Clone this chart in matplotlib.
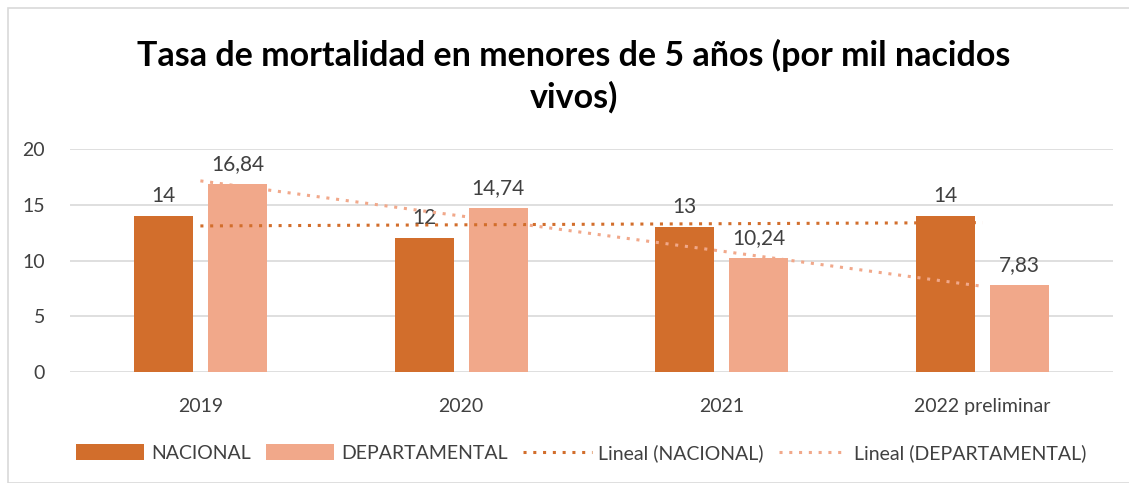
import numpy as np
import matplotlib.pyplot as plt
from matplotlib.patches import Rectangle

plt.rcParams['font.family'] = ['Lato', 'DejaVu Sans']

categories = ["2019", "2020", "2021", "2022 preliminar"]
nacional = [14, 12, 13, 14]
departamental = [16.84, 14.74, 10.24, 7.83]
labels_nac = ["14", "12", "13", "14"]
labels_dep = ["16,84", "14,74", "10,24", "7,83"]

c_nac = "#D26E2C"
c_dep = "#F1A88A"
txt = "#404040"

fig = plt.figure(figsize=(11.29, 4.83), dpi=100)
ax = fig.add_axes([70 / 1129, 1 - 372 / 483, (1113 - 70) / 1129, (372 - 149) / 483])

x = np.arange(len(categories))
w = 0.226
off = 0.142
ax.bar(x - off, nacional, w, color=c_nac, label="NACIONAL", zorder=2)
ax.bar(x + off, departamental, w, color=c_dep, label="DEPARTAMENTAL", zorder=2)

for xi, v, s in zip(x - off, nacional, labels_nac):
    ax.text(xi, v + 0.9, s, ha="center", va="bottom", fontsize=15, color=txt)
for xi, v, s in zip(x + off, departamental, labels_dep):
    ax.text(xi, v + 0.9, s, ha="center", va="bottom", fontsize=15, color=txt)

# linear trendlines (Excel style, at category centres)
p_nac = np.polyfit(x, nacional, 1)
p_dep = np.polyfit(x, departamental, 1)
ax.plot(x, np.polyval(p_nac, x), linestyle=(0, (1, 2.2)), color=c_nac, lw=2.2,
        label="Lineal (NACIONAL)", zorder=3)
ax.plot(x, np.polyval(p_dep, x), linestyle=(0, (1, 2.2)), color=c_dep, lw=2.2,
        label="Lineal (DEPARTAMENTAL)", zorder=3)

ax.set_xlim(-0.5, 3.5)
ax.set_ylim(0, 20)
ax.set_yticks([0, 5, 10, 15, 20])
ax.set_xticks(x)
ax.set_xticklabels(categories)
ax.grid(axis="y", color="#D9D9D9", lw=1.2, zorder=0)
for sp in ax.spines.values():
    sp.set_visible(False)
ax.tick_params(length=0, labelsize=14, colors=txt)
ax.tick_params(axis="x", pad=19)
ax.tick_params(axis="y", pad=18)

fig.text(0.508, 1 - 55 / 483, "Tasa de mortalidad en menores de 5 años (por mil nacidos",
         ha="center", va="center", fontsize=24.5, fontweight="bold", color="black")
fig.text(0.508, 1 - 97 / 483, "vivos)", ha="center", va="center",
         fontsize=24.5, fontweight="bold", color="black")

h, l = ax.get_legend_handles_labels()
h = [ax.containers[0], ax.containers[1]] + h[:2]
l = ["NACIONAL", "DEPARTAMENTAL", "Lineal (NACIONAL)", "Lineal (DEPARTAMENTAL)"]
fig.legend(h, l, loc="center", bbox_to_anchor=(0.515, 1 - 453 / 483), ncol=4,
           frameon=False, fontsize=14, labelcolor=txt, handlelength=3.5,
           handleheight=0.9, handletextpad=0.35, columnspacing=0.8)

fig.patches.append(Rectangle((8 / 1129, 0), 1.2, 1 - 8 / 483, transform=fig.transFigure,
                             fill=False, edgecolor="#D9D9D9", lw=1.2))

fig.savefig("out.png", dpi=100)
